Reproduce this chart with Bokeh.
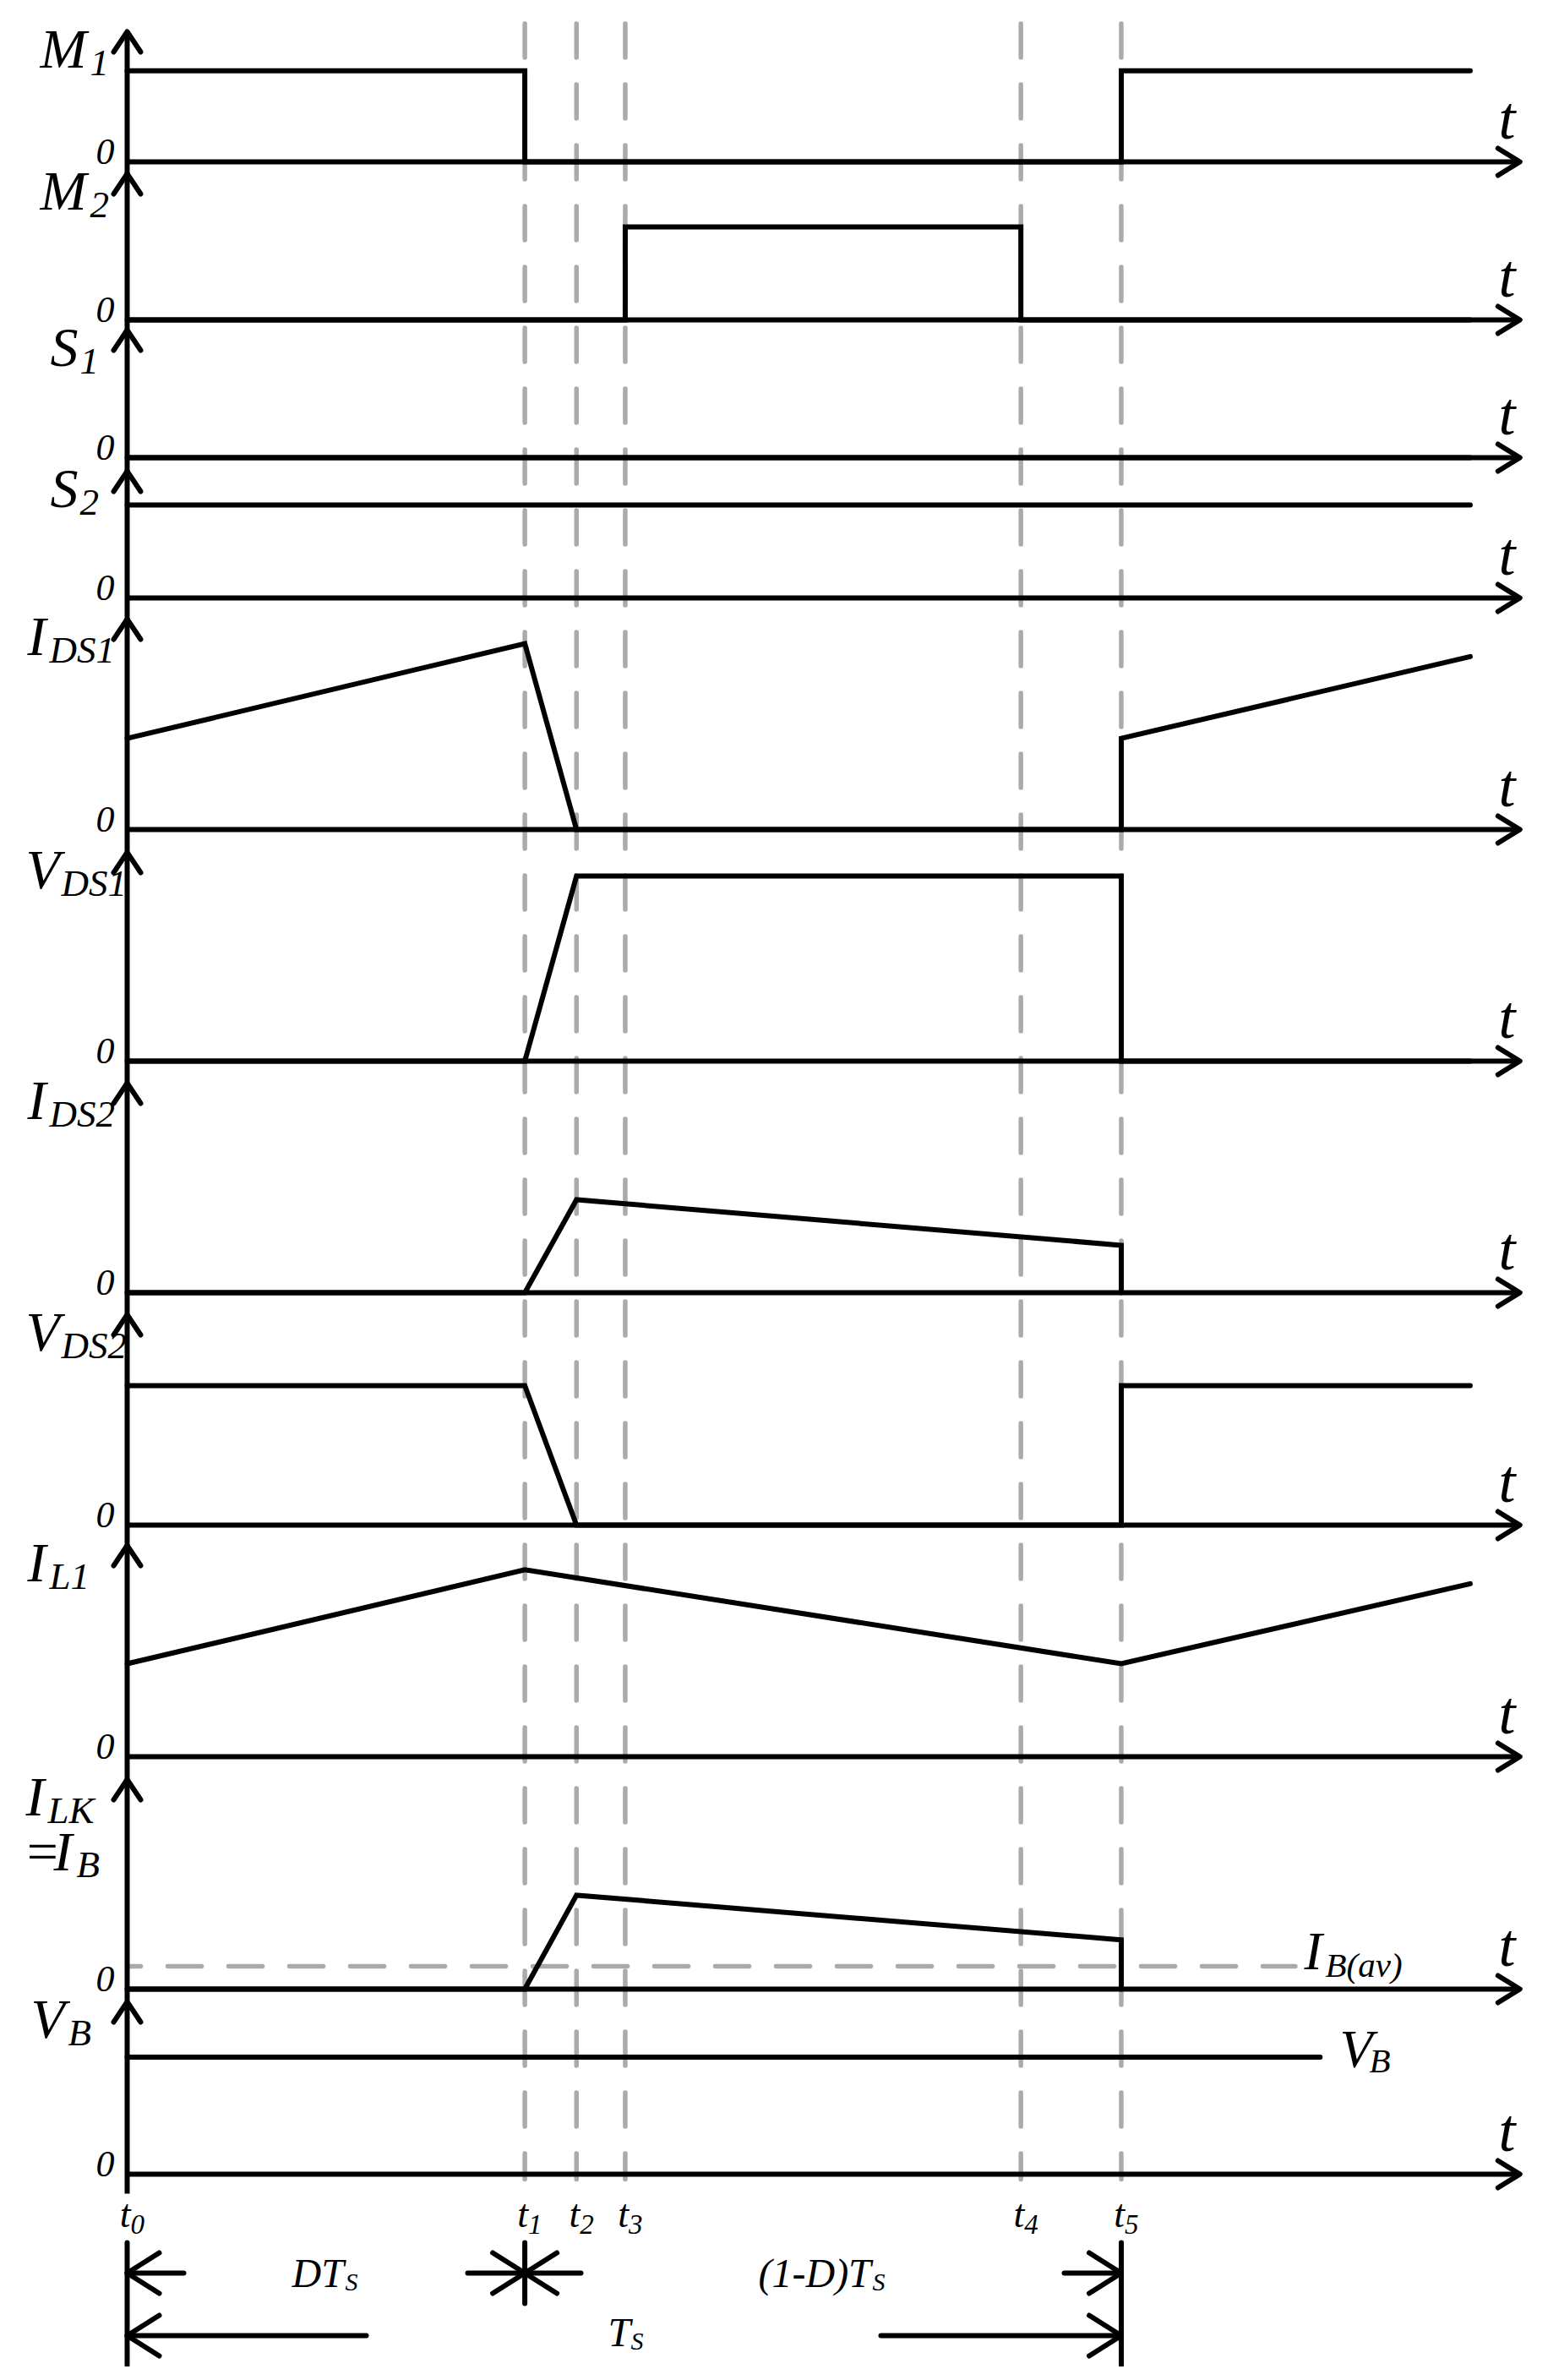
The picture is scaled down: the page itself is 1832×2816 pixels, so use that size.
from bokeh.plotting import figure
from bokeh.models import Range1d
from bokeh.embed import file_html
from bokeh.resources import INLINE
from bokeh.core.properties import value

# ------------------------------------------------------------------ data
# time in units of the switching period Ts (t0 = 0, t5 = Ts)
EVENT_T = [0.0, 0.400, 0.452, 0.501, 0.899, 1.0]
EVENT_SUB = ["0", "1", "2", "3", "4", "5"]
WAVE_END = 1.351
AXIS_END = 1.401

SIG_MAIN = ["M", "M", "S", "S", "I", "V", "I", "V", "I", "I", "V"]
SIG_SUB = ["1", "2", "1", "2", "DS1", "DS1", "DS2", "DS2", "L1", "LK", "B"]

# waveform breakpoints (time in Ts, level; 1 = nominal amplitude)
M1_T = [0.0, 0.400, 0.400, 1.0, 1.0, 1.351]
M1_V = [0.98, 0.98, 0.0, 0.0, 0.98, 0.98]
M2_T = [0.0, 0.501, 0.501, 0.899, 0.899, 1.351]
M2_V = [0.0, 0.0, 1.0, 1.0, 0.0, 0.0]
S1_T = [0.0, 1.351]
S1_V = [0.0, 0.0]
S2_T = [0.0, 1.351]
S2_V = [1.0, 1.0]
IDS1_T = [0.0, 0.400, 0.452, 1.0, 1.0, 1.351]
IDS1_V = [0.98, 2.0, 0.0, 0.0, 0.98, 1.86]
VDS1_T = [0.0, 0.400, 0.452, 1.0, 1.0, 1.351]
VDS1_V = [0.0, 0.0, 1.99, 1.99, 0.0, 0.0]
IDS2_T = [0.0, 0.400, 0.452, 1.0, 1.0]
IDS2_V = [0.0, 0.0, 1.0, 0.51, 0.0]
VDS2_T = [0.0, 0.400, 0.452, 1.0, 1.0, 1.351]
VDS2_V = [1.5, 1.5, 0.0, 0.0, 1.5, 1.5]
IL1_T = [0.0, 0.400, 1.0, 1.351]
IL1_V = [1.0, 2.01, 1.0, 1.86]
ILK_T = [0.0, 0.400, 0.452, 1.0, 1.0]
ILK_V = [0.0, 0.0, 1.01, 0.53, 0.0]
VB_T = [0.0, 1.2]
VB_V = [1.26, 1.26]
IBAV_T = [0.0, 1.175]
IBAV_V = [0.245, 0.245]

WAVES = [(M1_T, M1_V), (M2_T, M2_V), (S1_T, S1_V), (S2_T, S2_V),
         (IDS1_T, IDS1_V), (VDS1_T, VDS1_V), (IDS2_T, IDS2_V),
         (VDS2_T, VDS2_V), (IL1_T, IL1_V), (ILK_T, ILK_V), (VB_T, VB_V)]

# ------------------------------------------------------------------ layout
W, H = 1816, 2800
ORIGIN = 0          # page offset of the plot frame
K = 1176.5          # px per Ts
AXIS_PX = 150       # page x of t0
UNIT = 110          # px per level unit
ZERO_Y = [191, 378, 541, 707, 981, 1255, 1529, 1804, 2078, 2353, 2572]
TIP_Y = [37, 205, 390, 557, 732, 1008, 1281, 1555, 1828, 2105, 2368]
LBL_X = [47, 47, 59, 59, 32, 30, 32, 30, 32, 30, 36]
SUB_X = [106, 106, 94, 94, 58, 72, 58, 72, 58, 56, 80]
FONT = value("Liberation Serif")
BLACK = "black"
GREY = "#aaaaaa"
LW = 6
BASE_FIX = 0.3      # em: renderer places text lower than the alphabetic baseline


def X(px):
    return (px - AXIS_PX) / K


def DX(px):
    return px / K


p = figure(width=W, height=H, output_backend="svg", toolbar_location=None,
           x_range=Range1d(X(ORIGIN), X(ORIGIN + W)),
           y_range=Range1d(ORIGIN + H, ORIGIN),
           x_axis_location=None, y_axis_location=None, min_border=0,
           outline_line_color=None, background_fill_color="white",
           border_fill_color="white")
p.grid.visible = False


def txt(xs, ys, texts, size, align="left"):
    p.text(x=xs, y=[y - BASE_FIX * size for y in ys], text=texts,
           text_font=FONT, text_font_style="italic",
           text_font_size=value(f"{size}px"), text_align=align,
           text_baseline="alphabetic", text_line_height=1.0,
           text_color=BLACK)


# grey dashed event markers
ev = EVENT_T[1:]
p.segment(x0=ev, y0=[27.5] * len(ev), x1=ev, y1=[2578] * len(ev),
          line_color=GREY, line_width=5.5, line_dash="40 32", line_cap="round")

# I_B(av) dashed level
p.line(x=IBAV_T, y=[ZERO_Y[9] - UNIT * v for v in IBAV_V], line_color=GREY,
       line_width=5.5, line_dash="40 32", line_dash_offset=24, line_cap="round")

# main vertical axis
p.line(x=[0, 0], y=[TIP_Y[0], 2595], line_color=BLACK, line_width=LW)

# time axes
p.segment(x0=[0] * 11, y0=ZERO_Y, x1=[AXIS_END] * 11, y1=ZERO_Y,
          line_color=BLACK, line_width=LW)

# arrow heads on axes
hx, hy = [], []
for tip in TIP_Y:
    hx.append([DX(-16), 0, DX(16)])
    hy.append([tip + 24, tip, tip + 24])
for z in ZERO_Y:
    hx.append([AXIS_END - DX(26), AXIS_END, AXIS_END - DX(26)])
    hy.append([z - 16, z, z + 16])
p.multi_line(xs=hx, ys=hy, line_color=BLACK, line_width=LW,
             line_cap="round", line_join="round")

# waveforms
for (tt, vv), z in zip(WAVES, ZERO_Y):
    p.line(x=tt, y=[z - UNIT * v for v in vv], line_color=BLACK,
           line_width=LW, line_join="miter", line_cap="round")

# signal labels
txt([X(x) for x in LBL_X], [t + 40 for t in TIP_Y], SIG_MAIN, 66)
txt([X(x) for x in SUB_X], [t + 50 for t in TIP_Y], SIG_SUB, 45)
txt([X(27), X(63)], [2210, 2210], ["=", "I"], 66)
txt([X(90)], [2219], ["B"], 45)

# zero labels and t labels
txt([X(135)] * 11, [z + 1 for z in ZERO_Y], ["0"] * 11, 44, "right")
txt([X(1783)] * 11, [z - 30 for z in ZERO_Y], ["t"] * 11, 72, "center")

# right-side labels
txt([X(1543), X(1585)], [2327, 2443], ["I", "V"], 64)
txt([X(1568), X(1620)], [2337, 2450], ["B(av)", "B"], 41)

# event time labels
txt([t + DX(4) for t in EVENT_T], [2633] * 6, ["t"] * 6, 46, "right")
txt([t + DX(4) for t in EVENT_T], [2641] * 6, EVENT_SUB, 33)

# ------------------------------------------------------------------ bottom period arrows
R1, R2 = 2689, 2763
t0, t1, t5 = EVENT_T[0], EVENT_T[1], EVENT_T[5]
HL, HW = DX(38), 24
sx0 = [t0, X(553), X(1259), t0, X(1042), t0, t5, t1]
sx1 = [X(217), X(687), t5, X(433), t5, t0, t5, t1]
sy0 = [R1, R1, R1, R2, R2, 2653, 2653, 2653]
sy1 = [R1, R1, R1, R2, R2, 2798, 2798, 2725]
p.segment(x0=sx0, y0=sy0, x1=sx1, y1=sy1, line_color=BLACK, line_width=LW,
          line_cap="round")

ax, ay = [], []
for tip, sgn, yy in [(t0, 1, R1), (t0, 1, R2), (t5, -1, R1), (t5, -1, R2),
                     (t1, -1, R1), (t1, 1, R1)]:
    ax.append([tip + sgn * HL, tip, tip + sgn * HL])
    ay.append([yy - HW, yy, yy + HW])
p.multi_line(xs=ax, ys=ay, line_color=BLACK, line_width=LW,
             line_cap="round", line_join="round")

txt([X(345), X(897), X(719)], [2703, 2703, 2773], ["DT", "(1-D)T", "T"], 48)
txt([X(408), X(1032), X(746)], [2708, 2708, 2778], ["S", "S", "S"], 30)

open("out.html", "w").write(file_html(p, INLINE))
